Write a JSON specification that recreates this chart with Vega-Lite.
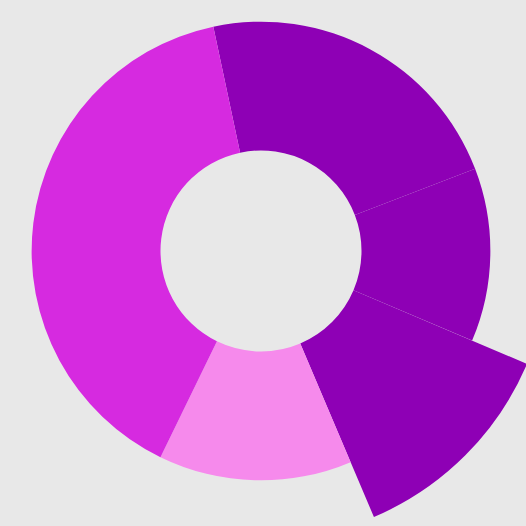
{
  "$schema": "https://vega.github.io/schema/vega-lite/v6.json",
  "width": 522,
  "height": 502,
  "autosize": {"type": "none"},
  "padding": {"left": 0, "top": 0, "right": 4, "bottom": 24},
  "background": "#e8e8e8",
  "config": {"view": {"stroke": null}},
  "data": {
    "values": [
      {"idx": 1, "group": "A", "value": 81, "r": 100},
      {"idx": 2, "group": "A", "value": 44, "r": 100},
      {"idx": 3, "group": "A", "value": 44, "r": 126},
      {"idx": 4, "group": "C", "value": 49, "r": 100},
      {"idx": 5, "group": "B", "value": 142, "r": 100}
    ]
  },
  "transform": [
    {"stack": "value", "sort": [{"field": "idx", "order": "ascending"}], "as": ["t0", "t1"]}
  ],
  "mark": {"type": "arc", "innerRadius": 100.5},
  "encoding": {
    "theta": {"field": "t0", "type": "quantitative", "scale": {"domain": [0, 360], "range": [-0.2094, 6.0737]}},
    "theta2": {"field": "t1"},
    "radius": {"field": "r", "type": "quantitative", "scale": {"type": "linear", "zero": true, "domain": [0, 126], "range": [0, 289]}},
    "color": {"field": "group", "type": "nominal", "legend": null, "scale": {"domain": ["A", "B", "C"], "range": ["#8e00b5", "#d62ae0", "#f68aec"]}}
  }
}
